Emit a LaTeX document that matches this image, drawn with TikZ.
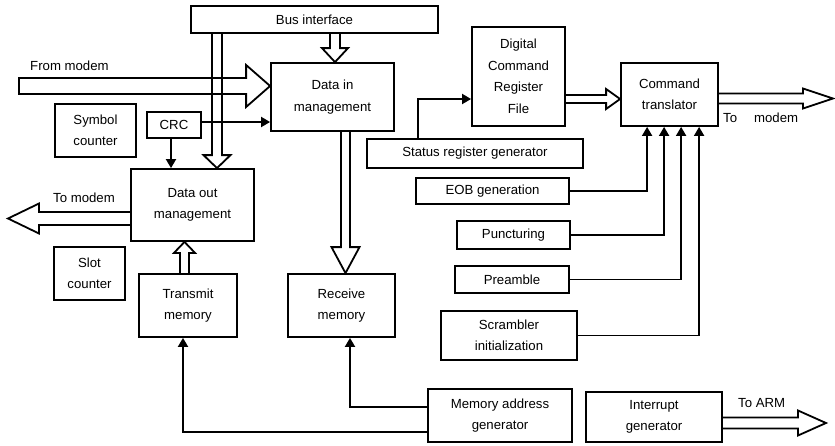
\documentclass[tikz,border=0pt]{standalone}
\usepackage{fontspec}
\setmainfont{Liberation Sans}
\usetikzlibrary{arrows.meta,calc}

\tikzset{
  box/.style={draw, line width=1.8pt, align=center, inner sep=0pt,
    font=\fontsize{13.2}{21.5}\selectfont},
  sz/.style 2 args={minimum width=#1pt, minimum height=#2pt},
  wire/.style={line width=1.8pt, -{Triangle[width=10pt,length=9pt]}},
  hollowline/.style={line width=1.8pt, line join=miter},
  lbl/.style={font=\fontsize{13.2}{21.5}\selectfont, inner sep=0pt},
}

% Wide outlined arrow from #1 to #2: shaft half width #3, head half width #4,
% head length #5 (all in pt); #6 may close the tail (-- cycle)
\newcommand\hollow[6]{%
  \draw[hollowline] let \p1=(#1), \p2=(#2),
      \n1={atan2(\y2-\y1,\x2-\x1)}, \n2={veclen(\x2-\x1,\y2-\y1)} in
    [shift={(\p1)}, rotate=\n1]
    (0pt,#3pt) -- (\n2-#5pt,#3pt) -- (\n2-#5pt,#4pt) -- (\n2-0pt,0pt)
    -- (\n2-#5pt,-#4pt) -- (\n2-#5pt,-#3pt) -- (0pt,-#3pt) #6;}

\begin{document}
\begin{tikzpicture}[x=1pt,y=-1pt]
\useasboundingbox (0,0) rectangle (835,445);

% blocks
\node[box, sz={247}{27}]  (bus)  at (314.5,19.5) {Bus interface};
\node[box, sz={123}{68}]  (din)  at (332.5,97)   {Data in\\management};
\node[box, sz={81}{53}]   (sym)  at (95.5,130.5) {Symbol\\counter};
\node[box, sz={54}{26}]   (crc)  at (174,125)    {CRC};
\node[box, sz={123}{72}]  (dout) at (192.5,205)  {Data out\\management};
\node[box, sz={71}{53}]   (slot) at (89.5,273.5) {Slot\\counter};
\node[box, sz={98}{63}]   (tx)   at (188,305.5)  {Transmit\\memory};
\node[box, sz={107}{63}]  (rx)   at (341.5,305.5){Receive\\memory};
\node[box, sz={144}{53}]  (mag)  at (500,415.5)  {Memory address\\generator};
\node[box, sz={136}{50}]  (intg) at (654,417)    {Interrupt\\generator};
\node[box, sz={93}{99}]   (dcrf) at (518.5,76.5) {Digital\\Command\\Register\\File};
\node[box, sz={97}{63}]   (ct)   at (669.5,94.5) {Command\\translator};
\node[box, sz={216}{29}]  (srg)  at (475,153.5)  {Status register generator};
\node[box, sz={153}{26}]  (eob)  at (492.5,191)  {EOB generation};
\node[box, sz={113}{28}]  (punc) at (513.5,235)  {Puncturing};
\node[box, sz={114}{27}]  (pre)  at (512,279.5)  {Preamble};
\node[box, sz={136}{49}]  (scr)  at (509,335.5)  {Scrambler\\initialization};

% free ends and labels
\coordinate (fm)  at (19,86);
\coordinate (tm)  at (8,218.5);
\coordinate (tm2) at (833,98.5);
\coordinate (arm) at (826,423);
\node[lbl, anchor=base west] (lfm)  at (30,70)   {From modem};
\node[lbl, anchor=base west] (ltm)  at (53,202)  {To modem};
\node[lbl, anchor=base west] (ltm2) at (723,122) {To\hspace{17pt}modem};
\node[lbl, anchor=base west] (larm) at (738,407) {To ARM};

% wide data paths
\coordinate (h1) at ($(din.north)+(2.5,0)$);
\hollow{bus.south -| h1}{h1}{5}{13}{14}{}
\coordinate (h2) at ($(dout.north)+(24.5,0)$);
\hollow{bus.south -| h2}{h2}{5}{13.5}{13}{}
\coordinate (h3) at ($(din.west)+(0,-11)$);
\hollow{fm}{h3}{8}{21}{24}{-- cycle}
\hollow{dout.west |- tm}{tm}{6.5}{15}{31}{}
\coordinate (h4) at ($(tx.north)+(-3.5,0)$);
\hollow{h4}{h4 |- dout.south}{4.5}{10.5}{11}{}
\coordinate (h5) at ($(rx.north)+(4,0)$);
\hollow{din.south -| h5}{h5}{4.5}{14}{26}{}
\coordinate (h6) at ($(ct.west)+(0,4.5)$);
\hollow{dcrf.east |- h6}{h6}{4}{10}{14}{}
\hollow{ct.east |- tm2}{tm2}{5}{10}{30}{}
\hollow{intg.east |- arm}{arm}{5.5}{12.5}{28}{}

% control lines
\coordinate (c1) at ($(crc.east)+(0,-3)$);
\draw[wire] (c1) -- (c1 -| din.west);
\coordinate (c2) at ($(crc.south)+(-3,0)$);
\draw[wire] (c2) -- (c2 |- dout.north);
\coordinate (s1) at ($(srg.north west)+(52,0)$);
\draw[wire] (s1) |- ($(dcrf.west)+(0,22.5)$);
\draw[wire] (eob.east)  -| ($(ct.south west)+(27,0)$);
\draw[wire] (punc.east) -| ($(ct.south west)+(44,0)$);
\draw[wire] (pre.east)  -| ($(ct.south west)+(61,0)$);
\draw[wire] (scr.east)  -| ($(ct.south west)+(79,0)$);
\draw[wire] ($(mag.west)+(0,-8.5)$) -| ($(rx.south)+(8.5,0)$);
\draw[wire] ($(mag.west)+(0,16.5)$) -| ($(tx.south)+(-5,0)$);
\end{tikzpicture}
\end{document}
